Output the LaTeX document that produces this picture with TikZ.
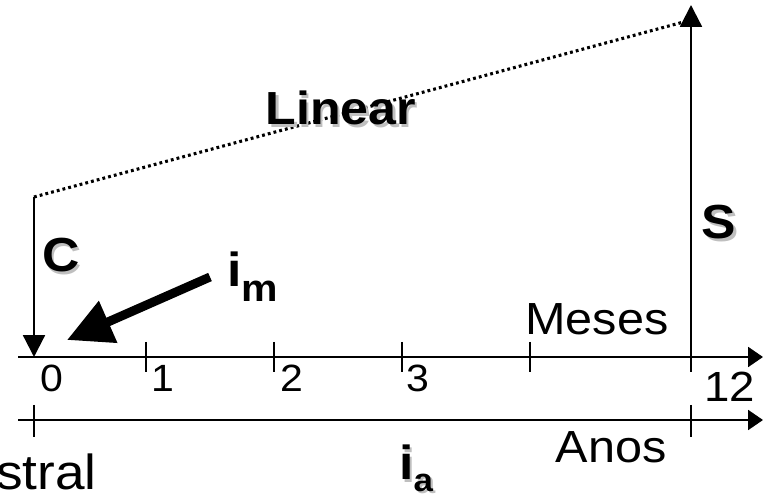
\documentclass[tikz,border=0pt]{standalone}
\usepackage{fontspec}
\setmainfont[FakeStretch=1.08]{Liberation Sans}
\usetikzlibrary{arrows.meta}
\newcommand{\shd}[1]{\makebox[0pt][l]{\kern1.6pt\raisebox{-1.6pt}{\textcolor{black!25}{#1}}}#1}

\begin{document}
\begin{tikzpicture}[x=0.025cm,y=-0.025cm,
  ax/.style={line width=1.6pt,-{Triangle[length=10.5pt,width=14pt]}},
  tk/.style={line width=1.6pt},
  flow/.style={line width=1.6pt,-{Triangle[length=15.5pt,width=15.5pt]}},
  num/.style={inner sep=0pt,anchor=base west,font=\fontsize{27}{30}\selectfont},
  lbl/.style={inner sep=0pt,anchor=base,font=\fontsize{32}{36}\selectfont},
  big/.style={inner sep=0pt,anchor=base,font=\bfseries\fontsize{34}{38}\selectfont}]
\useasboundingbox (0,0) rectangle (763,497);
% eixos de meses e anos
\coordinate (m0) at (18,357);
\coordinate (m1) at (763,357);
\coordinate (a0) at (18,420);
\coordinate (a1) at (763,420);
\draw[ax] (m0) -- (m1);
\draw[ax] (a0) -- (a1);
\foreach \x in {146,274,402,530,691}
  \draw[tk] (\x,342) -- (\x,372);
\foreach \x in {34,691}
  \draw[tk] (\x,405) -- (\x,437);
\foreach \x/\t in {40/0,151/1,280/2,406/3}
  \node[num] (n\t) at (\x,392) {\t};
\node[num,font=\fontsize{30}{33}\selectfont] (n12) at (704,402) {12};
\node[lbl] (mes) at (597,335) {Meses};
\node[lbl] (anos) at (611,462) {Anos};
\node[lbl,anchor=base west,font=\fontsize{35}{40}\selectfont] (tri) at (-4,490) {stral};
% capital e montante
\coordinate (ctop) at (34,197);
\coordinate (o) at (34,357);
\coordinate (s0) at (691,357);
\coordinate (stop) at (691,5);
\coordinate (send) at (691,20);
\draw[flow] (ctop) -- (o);
\draw[flow] (s0) -- (stop);
\draw[line width=2.2pt,dash pattern=on 2pt off 2.2pt] (ctop) -- (send);
\node[big] (c) at (61,272) {\shd{C}};
\node[big] (s) at (719,239) {\shd{S}};
\node[big,font=\bfseries\fontsize{33}{38}\selectfont] (lin) at (341,125) {\shd{Linear}};
% taxas
\coordinate (im0) at (210,277);
\coordinate (im1) at (67,340);
\draw[line width=6.4pt,-{Triangle[length=32pt,width=31pt]}] (im0) -- (im1);
\node[big,anchor=base west] (im) at (227,287) {i\raisebox{-10.5pt}{\fontsize{27}{30}\selectfont m}};
\node[big,anchor=base west] (ia) at (399,480) {\shd{i\raisebox{-8pt}{\fontsize{23}{26}\selectfont a}}};
\end{tikzpicture}
\end{document}
